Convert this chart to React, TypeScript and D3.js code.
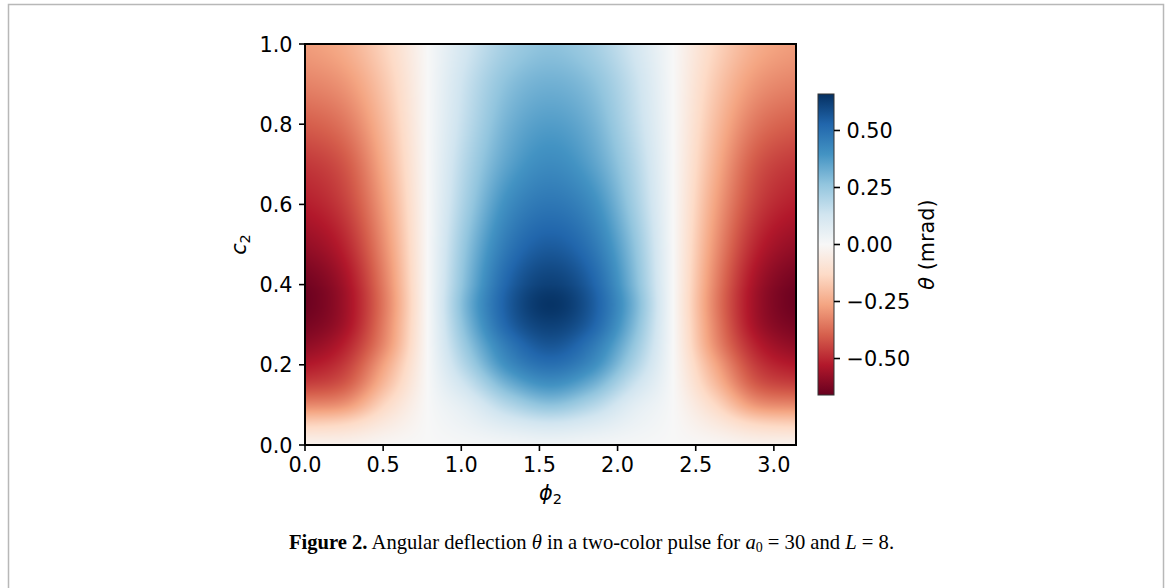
import React, { useMemo } from "react";
import * as d3 from "d3";

// Grid of the deflection angle θ (mrad): one row per c2 value, one column per φ2 value.
const PHI2 = [0, 0.262, 0.524, 0.785, 1.047, 1.309, 1.571, 1.833, 2.094, 2.356, 2.618, 2.88, 3.142];
const C2 = [0, 0.05, 0.1, 0.15, 0.2, 0.25, 0.3, 0.35, 0.4, 0.5, 0.6, 0.7, 0.8, 0.9, 1.0];
const THETA = [
  [-0.03, -0.03, -0.01, 0, 0.01, 0.02, 0.03, 0.02, 0.01, 0, -0.01, -0.03, -0.03],
  [-0.15, -0.13, -0.06, 0, 0.04, 0.09, 0.12, 0.09, 0.04, 0, -0.06, -0.13, -0.15],
  [-0.32, -0.29, -0.13, 0, 0.08, 0.2, 0.27, 0.2, 0.08, 0, -0.13, -0.29, -0.32],
  [-0.45, -0.4, -0.2, 0, 0.15, 0.32, 0.4, 0.32, 0.15, 0, -0.2, -0.4, -0.45],
  [-0.53, -0.46, -0.25, 0, 0.22, 0.42, 0.5, 0.42, 0.22, 0, -0.25, -0.46, -0.53],
  [-0.59, -0.51, -0.3, 0, 0.27, 0.48, 0.57, 0.48, 0.27, 0, -0.3, -0.51, -0.59],
  [-0.63, -0.55, -0.32, 0, 0.31, 0.54, 0.62, 0.54, 0.31, 0, -0.32, -0.55, -0.63],
  [-0.65, -0.56, -0.33, 0, 0.33, 0.56, 0.65, 0.56, 0.33, 0, -0.33, -0.56, -0.65],
  [-0.64, -0.55, -0.32, 0, 0.31, 0.54, 0.62, 0.54, 0.31, 0, -0.32, -0.55, -0.64],
  [-0.58, -0.5, -0.29, 0, 0.28, 0.48, 0.55, 0.48, 0.28, 0, -0.29, -0.5, -0.58],
  [-0.52, -0.45, -0.26, 0, 0.24, 0.42, 0.48, 0.42, 0.24, 0, -0.26, -0.45, -0.52],
  [-0.47, -0.41, -0.23, 0, 0.21, 0.36, 0.42, 0.36, 0.21, 0, -0.23, -0.41, -0.47],
  [-0.4, -0.35, -0.2, 0, 0.18, 0.32, 0.37, 0.32, 0.18, 0, -0.2, -0.35, -0.4],
  [-0.33, -0.29, -0.17, 0, 0.16, 0.28, 0.32, 0.28, 0.16, 0, -0.17, -0.29, -0.33],
  [-0.28, -0.24, -0.14, 0, 0.13, 0.23, 0.27, 0.23, 0.13, 0, -0.14, -0.24, -0.28],
];

const X_TICKS = [0, 0.5, 1.0, 1.5, 2.0, 2.5, 3.0];
const Y_TICKS = [0, 0.2, 0.4, 0.6, 0.8, 1.0];
const CB_TICKS = [-0.5, -0.25, 0, 0.25, 0.5];
const V_MIN = -0.66;
const V_MAX = 0.66;
const RDBU = [
  "#67001f", "#b2182b", "#d6604d", "#f4a582", "#fddbc7", "#f7f7f7",
  "#d1e5f0", "#92c5de", "#4393c3", "#2166ac", "#053061",
];

const W = 1167;
const H = 588;
const PLOT = { left: 305, top: 44, width: 491, height: 401 };
const CBAR = { x: 818, y: 94, width: 16, height: 301 };
const FONT = "'DejaVu Sans', sans-serif";
const TICK_FS = 20.8;

const fmt1 = d3.format(".1f");
const fmtCb = (v: number) => d3.format(".2f")(v).replace("-", "\u2212");

const colorStops = d3.range(RDBU.length).map((i) => V_MIN + (i * (V_MAX - V_MIN)) / (RDBU.length - 1));
const color = d3
  .scaleLinear<string>()
  .domain(colorStops)
  .range(RDBU)
  .interpolate(d3.interpolateRgb)
  .clamp(true);

function catmull(p0: number, p1: number, p2: number, p3: number, t: number) {
  return 0.5 * (2 * p1 + (-p0 + p2) * t + (2 * p0 - 5 * p1 + 4 * p2 - p3) * t * t + (-p0 + 3 * p1 - 3 * p2 + p3) * t * t * t);
}

function sampleGrid(fc: number, fr: number) {
  const nr = THETA.length;
  const nc = THETA[0].length;
  const c0 = Math.min(Math.floor(fc), nc - 2);
  const r0 = Math.min(Math.floor(fr), nr - 2);
  const tc = fc - c0;
  const tr = fr - r0;
  const cl = (i: number, n: number) => Math.max(0, Math.min(n - 1, i));
  const rowVals: number[] = [];
  for (let dr = -1; dr <= 2; dr++) {
    const row = THETA[cl(r0 + dr, nr)];
    rowVals.push(
      catmull(row[cl(c0 - 1, nc)], row[cl(c0, nc)], row[cl(c0 + 1, nc)], row[cl(c0 + 2, nc)], tc)
    );
  }
  return catmull(rowVals[0], rowVals[1], rowVals[2], rowVals[3], tr);
}

export default function App() {
  const x = d3.scaleLinear().domain([0, Math.PI]).range([PLOT.left, PLOT.left + PLOT.width]);
  const y = d3.scaleLinear().domain([0, 1]).range([PLOT.top + PLOT.height, PLOT.top]);
  const cb = d3.scaleLinear().domain([V_MIN, V_MAX]).range([CBAR.y + CBAR.height, CBAR.y]);

  const heatmapUrl = useMemo(() => {
    const canvas = document.createElement("canvas");
    canvas.width = PLOT.width;
    canvas.height = PLOT.height;
    const ctx = canvas.getContext("2d");
    if (!ctx) return "";
    const img = ctx.createImageData(PLOT.width, PLOT.height);
    const colIdx = d3.scaleLinear().domain(PHI2).range(d3.range(PHI2.length)).clamp(true);
    const rowIdx = d3.scaleLinear().domain(C2).range(d3.range(C2.length)).clamp(true);
    for (let py = 0; py < PLOT.height; py++) {
      const c2 = y.invert(PLOT.top + py + 0.5);
      const fr = rowIdx(c2);
      for (let px = 0; px < PLOT.width; px++) {
        const phi = x.invert(PLOT.left + px + 0.5);
        const v = sampleGrid(colIdx(phi), fr);
        const c = d3.rgb(color(v));
        const k = (py * PLOT.width + px) * 4;
        img.data[k] = c.r;
        img.data[k + 1] = c.g;
        img.data[k + 2] = c.b;
        img.data[k + 3] = 255;
      }
    }
    ctx.putImageData(img, 0, 0);
    return canvas.toDataURL();
  }, []);

  return (
    <svg
      width={W}
      height={H}
      viewBox={`0 0 ${W} ${H}`}
      style={{ position: "absolute", left: 0, top: 0, display: "block", background: "#fff" }}
    >
      <defs>
        <linearGradient id="cbGrad" x1="0" y1="1" x2="0" y2="0">
          {RDBU.map((c, i) => (
            <stop key={i} offset={i / (RDBU.length - 1)} stopColor={c} />
          ))}
        </linearGradient>
      </defs>

      {/* figure frame */}
      <rect x={8.5} y={4.5} width={1155} height={600} fill="none" stroke="#b8b8b8" strokeWidth={1.5} />

      {/* heatmap */}
      <image
        href={heatmapUrl}
        x={PLOT.left}
        y={PLOT.top}
        width={PLOT.width}
        height={PLOT.height}
        preserveAspectRatio="none"
      />
      <rect x={PLOT.left} y={PLOT.top} width={PLOT.width} height={PLOT.height} fill="none" stroke="#000" strokeWidth={2} />

      {/* x axis */}
      {X_TICKS.map((t) => (
        <g key={`x${t}`}>
          <line x1={x(t)} x2={x(t)} y1={PLOT.top + PLOT.height} y2={PLOT.top + PLOT.height + 6} stroke="#000" strokeWidth={1.6} />
          <text x={x(t)} y={471.5} textAnchor="middle" fontFamily={FONT} fontSize={TICK_FS} fill="#000">
            {fmt1(t)}
          </text>
        </g>
      ))}
      <text x={PLOT.left + PLOT.width / 2} y={500} textAnchor="middle" fontFamily={FONT} fontSize={TICK_FS} fill="#000">
        <tspan fontStyle="italic">ϕ</tspan>
        <tspan fontSize={TICK_FS * 0.7} dy={4}>2</tspan>
      </text>

      {/* y axis */}
      {Y_TICKS.map((t) => (
        <g key={`y${t}`}>
          <line x1={PLOT.left - 6} x2={PLOT.left} y1={y(t)} y2={y(t)} stroke="#000" strokeWidth={1.6} />
          <text x={292.5} y={y(t) + 7.5} textAnchor="end" fontFamily={FONT} fontSize={TICK_FS} fill="#000">
            {fmt1(t)}
          </text>
        </g>
      ))}
      <text
        transform={`translate(246, ${PLOT.top + PLOT.height / 2}) rotate(-90)`}
        textAnchor="middle"
        fontFamily={FONT}
        fontSize={TICK_FS}
        fill="#000"
      >
        <tspan fontStyle="italic">c</tspan>
        <tspan fontSize={TICK_FS * 0.7} dy={4}>2</tspan>
      </text>

      {/* colorbar */}
      <rect x={CBAR.x} y={CBAR.y} width={CBAR.width} height={CBAR.height} fill="url(#cbGrad)" stroke="#333" strokeWidth={1} />
      {CB_TICKS.map((t) => (
        <g key={`c${t}`}>
          <line x1={CBAR.x + CBAR.width} x2={CBAR.x + CBAR.width + 6} y1={cb(t)} y2={cb(t)} stroke="#000" strokeWidth={1.6} />
          <text x={846.5} y={cb(t) + 7.5} fontFamily={FONT} fontSize={TICK_FS} fill="#000">
            {fmtCb(t)}
          </text>
        </g>
      ))}
      <text
        transform={`translate(934, ${CBAR.y + CBAR.height / 2}) rotate(-90)`}
        textAnchor="middle"
        fontFamily={FONT}
        fontSize={TICK_FS}
        fill="#000"
      >
        <tspan fontStyle="italic">θ</tspan>
        <tspan> (mrad)</tspan>
      </text>

      {/* caption */}
      <text x={591.5} y={549} textAnchor="middle" fontFamily="'Liberation Serif', serif" fontSize={20.6} fill="#000">
        <tspan fontWeight="bold">Figure 2.</tspan>
        <tspan> Angular deflection </tspan>
        <tspan fontStyle="italic">θ</tspan>
        <tspan> in a two-color pulse for </tspan>
        <tspan fontStyle="italic">a</tspan>
        <tspan fontSize={14} dy={3}>0</tspan>
        <tspan dy={-3}> = 30 and </tspan>
        <tspan fontStyle="italic">L</tspan>
        <tspan> = 8.</tspan>
      </text>
    </svg>
  );
}
